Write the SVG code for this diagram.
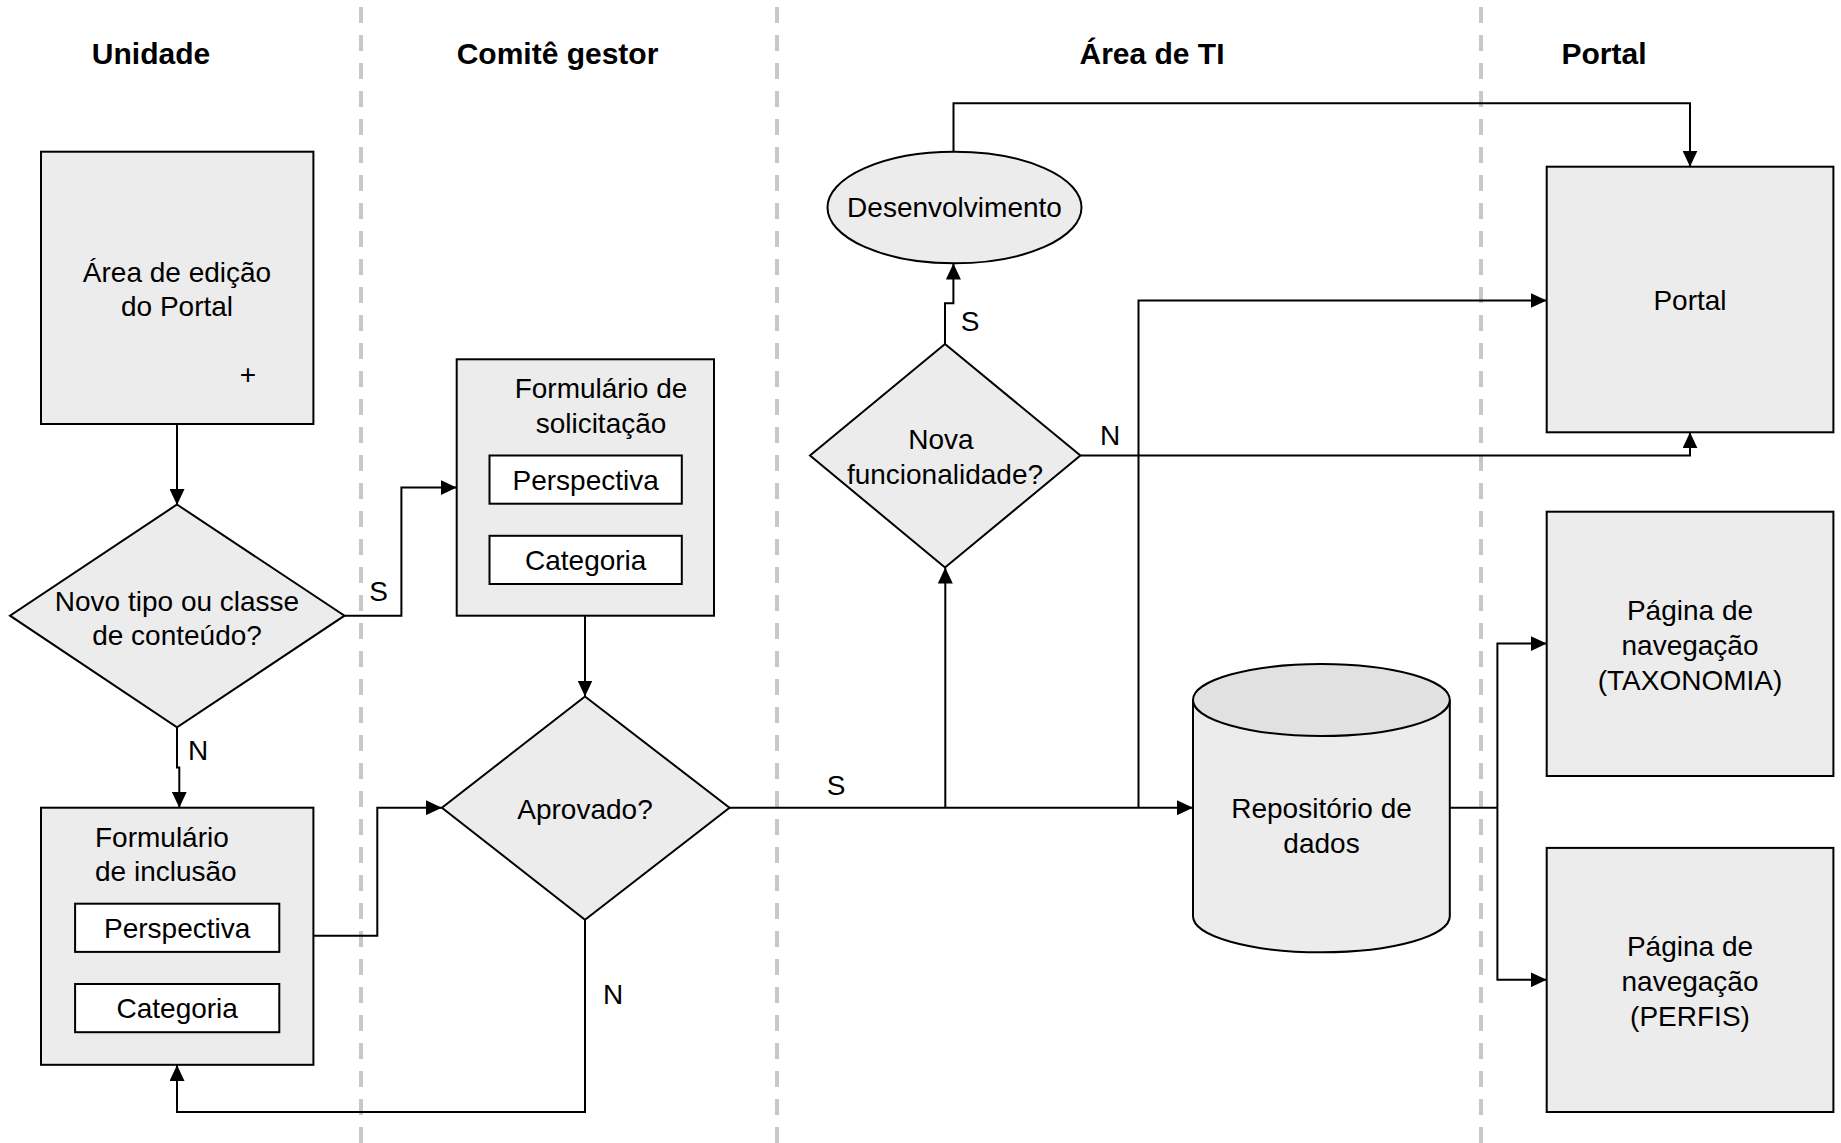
<svg xmlns="http://www.w3.org/2000/svg" width="1841" height="1143" viewBox="0 0 1841 1143">
<style>
.lane{stroke:#c8c8c8;stroke-width:4;stroke-dasharray:16 12;fill:none}
.hdr{font-family:"Liberation Sans",Arial,sans-serif;font-size:30px;font-weight:bold;text-anchor:middle;fill:#000}
.t{font-family:"Liberation Sans",Arial,sans-serif;font-size:28px;text-anchor:middle;fill:#000}
.box{fill:#ececec;stroke:#000;stroke-width:2}
.inner{fill:#fff;stroke:#000;stroke-width:2}
.c{fill:none;stroke:#000;stroke-width:2}
</style>
<defs>
<marker id="arr" markerUnits="userSpaceOnUse" markerWidth="16" markerHeight="15" viewBox="0 0 16 15" refX="16" refY="7.5" orient="auto">
<path d="M0,0 L16,7.5 L0,15 z" fill="#000"/>
</marker>
</defs>
<rect width="1841" height="1143" fill="#fff"/>
<g id="lanes">
<line class="lane" x1="361" y1="7" x2="361" y2="1143"/>
<line class="lane" x1="777" y1="7" x2="777" y2="1143"/>
<line class="lane" x1="1481" y1="7" x2="1481" y2="1143"/>
<text class="hdr" x="151" y="64">Unidade</text>
<text class="hdr" x="557.5" y="64">Comitê gestor</text>
<text class="hdr" x="1152" y="64">Área de TI</text>
<text class="hdr" x="1604" y="64">Portal</text>
</g>
<g id="connectors">
<path class="c" d="M177,424 L177,505" marker-end="url(#arr)"/>
<path class="c" d="M344.5,615.7 L401.4,615.7 L401.4,487.6 L456.7,487.6" marker-end="url(#arr)"/>
<path class="c" d="M177,727.4 L177,767.5 L179.3,767.5 L179.3,807.7" marker-end="url(#arr)"/>
<path class="c" d="M585,615.7 L585,696.5" marker-end="url(#arr)"/>
<path class="c" d="M313.4,935.8 L377.3,935.8 L377.3,807.7 L441.9,807.7" marker-end="url(#arr)"/>
<path class="c" d="M585,919.7 L585,1112 L177,1112 L177,1065" marker-end="url(#arr)"/>
<path class="c" d="M729.5,807.7 L1193,807.7" marker-end="url(#arr)"/>
<path class="c" d="M945.3,807.7 L945.3,567.5" marker-end="url(#arr)"/>
<path class="c" d="M1138.5,807.7 L1138.5,300.5 L1546.7,300.5" marker-end="url(#arr)"/>
<path class="c" d="M945,344 L945,303.3 L953.4,303.3 L953.4,263.5" marker-end="url(#arr)"/>
<path class="c" d="M1080.4,455.5 L1690,455.5 L1690,432.3" marker-end="url(#arr)"/>
<path class="c" d="M953.5,151.7 L953.5,103.3 L1690,103.3 L1690,166.7" marker-end="url(#arr)"/>
<path class="c" d="M1449.8,807.7 L1497.4,807.7"/>
<path class="c" d="M1497.4,807.7 L1497.4,643.6 L1546.7,643.6" marker-end="url(#arr)"/>
<path class="c" d="M1497.4,807.7 L1497.4,979.8 L1546.7,979.8" marker-end="url(#arr)"/>
<text class="t" x="378.5" y="601">S</text>
<text class="t" x="198" y="760">N</text>
<text class="t" x="836" y="795">S</text>
<text class="t" x="613" y="1004">N</text>
<text class="t" x="970" y="331">S</text>
<text class="t" x="1110" y="445">N</text>
</g>
<g id="area-edicao">
<rect class="box" x="41" y="151.7" width="272.4" height="272.3"/>
<text class="t" x="177" y="282">Área de edição</text>
<text class="t" x="177" y="316">do Portal</text>
<text class="t" x="248" y="384">+</text>
</g>
<g id="novo-tipo">
<polygon class="box" points="177,504.5 344.5,615.7 177,727.4 10,615.7"/>
<text class="t" x="177" y="611">Novo tipo ou classe</text>
<text class="t" x="177" y="645">de conteúdo?</text>
</g>
<g id="form-inclusao">
<rect class="box" x="41" y="807.7" width="272.4" height="257.1"/>
<text class="t" x="95" y="847" style="text-anchor:start">Formulário</text>
<text class="t" x="95" y="881" style="text-anchor:start">de inclusão</text>
<rect class="inner" x="75.1" y="903.7" width="204.2" height="48.2"/>
<text class="t" x="177.2" y="938">Perspectiva</text>
<rect class="inner" x="75.1" y="984" width="204.2" height="48.2"/>
<text class="t" x="177.2" y="1018">Categoria</text>
</g>
<g id="form-solicitacao">
<rect class="box" x="456.7" y="359.3" width="257.3" height="256.4"/>
<text class="t" x="601" y="398">Formulário de</text>
<text class="t" x="601" y="433">solicitação</text>
<rect class="inner" x="489.5" y="455.5" width="192.3" height="48.2"/>
<text class="t" x="585.7" y="490">Perspectiva</text>
<rect class="inner" x="489.5" y="535.8" width="192.3" height="48.2"/>
<text class="t" x="585.7" y="570">Categoria</text>
</g>
<g id="aprovado">
<polygon class="box" points="585,696.5 729.5,807.7 585,919.7 441.9,807.7"/>
<text class="t" x="585" y="819">Aprovado?</text>
</g>
<g id="desenvolvimento">
<ellipse class="box" cx="954.5" cy="207.5" rx="127" ry="55.8"/>
<text class="t" x="954.5" y="217">Desenvolvimento</text>
</g>
<g id="nova-funcionalidade">
<polygon class="box" points="945,344 1080.4,455.5 945,567.5 810,455.5"/>
<text class="t" x="941" y="449">Nova</text>
<text class="t" x="945" y="484">funcionalidade?</text>
</g>
<g id="repositorio">
<path class="box" d="M1193,700 L1193,916.3 A128.4,36 0 0 0 1449.8,916.3 L1449.8,700"/>
<ellipse cx="1321.4" cy="700" rx="128.4" ry="36" fill="#e1e1e1" stroke="#000" stroke-width="2"/>
<text class="t" x="1321.5" y="818">Repositório de</text>
<text class="t" x="1321.5" y="853">dados</text>
</g>
<g id="portal">
<rect class="box" x="1546.7" y="166.7" width="286.7" height="265.6"/>
<text class="t" x="1690" y="310">Portal</text>
</g>
<g id="pagina-taxonomia">
<rect class="box" x="1546.7" y="511.7" width="286.7" height="264.3"/>
<text class="t" x="1690" y="620">Página de</text>
<text class="t" x="1690" y="655">navegação</text>
<text class="t" x="1690" y="690">(TAXONOMIA)</text>
</g>
<g id="pagina-perfis">
<rect class="box" x="1546.7" y="847.9" width="286.7" height="264.1"/>
<text class="t" x="1690" y="956">Página de</text>
<text class="t" x="1690" y="991">navegação</text>
<text class="t" x="1690" y="1026">(PERFIS)</text>
</g>
</svg>
